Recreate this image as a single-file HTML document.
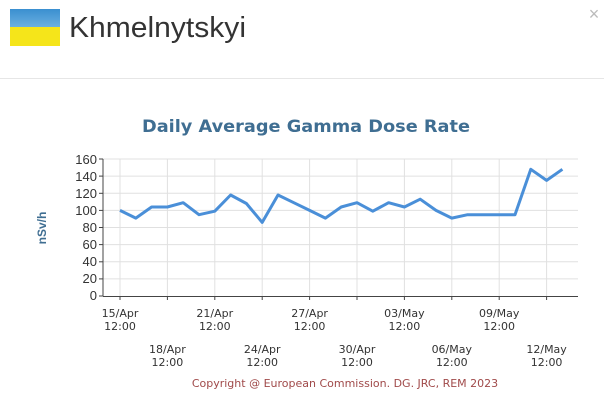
<!DOCTYPE html>
<html><head><style>
body{margin:0;width:604px;height:405px;background:#fff;overflow:hidden;font-family:"Liberation Sans",sans-serif;}
</style></head><body>
<svg width="604" height="405" xmlns="http://www.w3.org/2000/svg" style="position:absolute;left:0;top:0">
<defs><linearGradient id="b" x1="0" y1="0" x2="0" y2="1"><stop offset="0" stop-color="#3a8fd0"/><stop offset="1" stop-color="#6bb0e0"/></linearGradient></defs>
<rect x="10" y="9" width="50" height="18" fill="url(#b)"/>
<rect x="10" y="27" width="50" height="19" fill="#f5e51a"/>
<text x="69" y="37" font-size="29" fill="#333" textLength="177" lengthAdjust="spacingAndGlyphs">Khmelnytskyi</text>
<text x="594" y="20" font-size="18" fill="#bbb" text-anchor="middle">×</text>
<line x1="0" y1="78.5" x2="604" y2="78.5" stroke="#e6e6e6"/>
<text x="306" y="132" font-size="17" font-weight="bold" fill="#3f6e92" text-anchor="middle" font-family="DejaVu Sans,sans-serif" textLength="328" lengthAdjust="spacingAndGlyphs">Daily Average Gamma Dose Rate</text>
<g stroke="#e0e0e0" stroke-width="1">
<line x1="103" y1="159" x2="578" y2="159"/><line x1="103" y1="176.1" x2="578" y2="176.1"/><line x1="103" y1="193.3" x2="578" y2="193.3"/><line x1="103" y1="210.4" x2="578" y2="210.4"/><line x1="103" y1="227.5" x2="578" y2="227.5"/><line x1="103" y1="244.6" x2="578" y2="244.6"/><line x1="103" y1="261.8" x2="578" y2="261.8"/><line x1="103" y1="278.9" x2="578" y2="278.9"/>
<line x1="120" y1="159" x2="120" y2="296"/><line x1="167.4" y1="159" x2="167.4" y2="296"/><line x1="214.8" y1="159" x2="214.8" y2="296"/><line x1="262.2" y1="159" x2="262.2" y2="296"/><line x1="309.6" y1="159" x2="309.6" y2="296"/><line x1="357" y1="159" x2="357" y2="296"/><line x1="404.4" y1="159" x2="404.4" y2="296"/><line x1="451.8" y1="159" x2="451.8" y2="296"/><line x1="499.2" y1="159" x2="499.2" y2="296"/><line x1="546.6" y1="159" x2="546.6" y2="296"/>
</g>
<g stroke="#444" stroke-width="1">
<line x1="103" y1="159" x2="103" y2="296.5"/><line x1="103" y1="296.5" x2="578" y2="296.5"/>
<line x1="99" y1="159" x2="103" y2="159"/><line x1="99" y1="176.1" x2="103" y2="176.1"/><line x1="99" y1="193.3" x2="103" y2="193.3"/><line x1="99" y1="210.4" x2="103" y2="210.4"/><line x1="99" y1="227.5" x2="103" y2="227.5"/><line x1="99" y1="244.6" x2="103" y2="244.6"/><line x1="99" y1="261.8" x2="103" y2="261.8"/><line x1="99" y1="278.9" x2="103" y2="278.9"/><line x1="99" y1="296" x2="103" y2="296"/>
<line x1="120" y1="296" x2="120" y2="300"/><line x1="167.4" y1="296" x2="167.4" y2="300"/><line x1="214.8" y1="296" x2="214.8" y2="300"/><line x1="262.2" y1="296" x2="262.2" y2="300"/><line x1="309.6" y1="296" x2="309.6" y2="300"/><line x1="357" y1="296" x2="357" y2="300"/><line x1="404.4" y1="296" x2="404.4" y2="300"/><line x1="451.8" y1="296" x2="451.8" y2="300"/><line x1="499.2" y1="296" x2="499.2" y2="300"/><line x1="546.6" y1="296" x2="546.6" y2="300"/>
</g>
<g font-size="13" fill="#333" text-anchor="end">
<text x="97" y="164">160</text><text x="97" y="181">140</text><text x="97" y="198">120</text><text x="97" y="215">100</text><text x="97" y="232">80</text><text x="97" y="249">60</text><text x="97" y="266">40</text><text x="97" y="283">20</text><text x="97" y="300">0</text>
</g>
<text transform="translate(46,228) rotate(-90)" font-size="12" font-weight="bold" fill="#3f6e92" text-anchor="middle">nSv/h</text>
<g font-size="11" fill="#333" text-anchor="middle" font-family="DejaVu Sans,sans-serif">
<text x="120" y="317">15/Apr</text><text x="120" y="330">12:00</text>
<text x="214.8" y="317">21/Apr</text><text x="214.8" y="330">12:00</text>
<text x="309.6" y="317">27/Apr</text><text x="309.6" y="330">12:00</text>
<text x="404.4" y="317">03/May</text><text x="404.4" y="330">12:00</text>
<text x="499.2" y="317">09/May</text><text x="499.2" y="330">12:00</text>
<text x="167.4" y="353">18/Apr</text><text x="167.4" y="366">12:00</text>
<text x="262.2" y="353">24/Apr</text><text x="262.2" y="366">12:00</text>
<text x="357" y="353">30/Apr</text><text x="357" y="366">12:00</text>
<text x="451.8" y="353">06/May</text><text x="451.8" y="366">12:00</text>
<text x="546.6" y="353">12/May</text><text x="546.6" y="366">12:00</text>
</g>
<text x="345" y="387" font-size="11" fill="#a04a4a" text-anchor="middle" font-family="DejaVu Sans,sans-serif">Copyright @ European Commission. DG. JRC, REM 2023</text>
<polyline fill="none" stroke="#4a8fd8" stroke-width="3" stroke-linejoin="round" points="120,210.4 135.8,218.1 151.6,207 167.4,207 183.2,202.7 199,214.7 214.8,211.2 230.6,195 246.4,203.5 262.2,222.4 278,195 293.8,202.7 309.6,210.4 325.4,218.1 341.2,207 357,202.7 372.8,211.2 388.6,202.7 404.4,207 420.2,199.2 436,210.4 451.8,218.1 467.6,214.7 483.4,214.7 499.2,214.7 515,214.7 530.8,169.3 546.6,180.4 562.4,169.3"/>
</svg>
</body></html>
